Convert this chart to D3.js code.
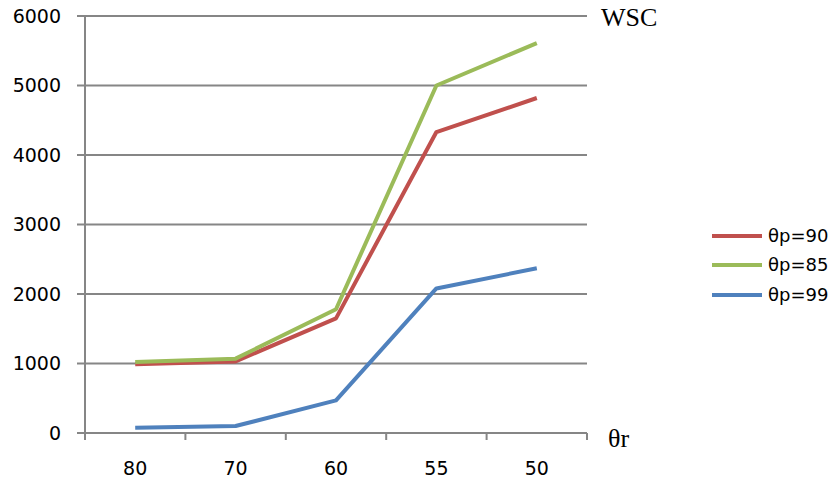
<!DOCTYPE html>
<html><head><meta charset="utf-8">
<script src="https://cdn.jsdelivr.net/npm/d3@7"></script>
<style>body{margin:0;background:#fff}svg{display:block}</style>
</head><body>
<script>
const categories = ["80","70","60","55","50"];
const seriesNames = ["θp=90","θp=85","θp=99"];
const s90 = [990, 1030, 1650, 4330, 4820];
const s85 = [1020, 1070, 1780, 5000, 5610];
const s99 = [75, 100, 470, 2080, 2370];
const yTicks = [0,1000,2000,3000,4000,5000,6000];
const colors = ["#C0504D","#9BBB59","#4F81BD"];
const series = [s90, s85, s99];

const W=831,H=484;
const svg=d3.select("body").append("svg").attr("width",W).attr("height",H);
const x=d3.scaleBand().domain(categories).range([85,587]);
const y=d3.scaleLinear().domain([0,6000]).range([433,16]);

// gridlines
svg.append("g").selectAll("line").data(yTicks).join("line")
 .attr("x1",77).attr("x2",587).attr("y1",d=>y(d)).attr("y2",d=>y(d))
 .attr("stroke","#868686").attr("stroke-width",2);
// y axis line
svg.append("line").attr("x1",85).attr("x2",85).attr("y1",y(6000)).attr("y2",y(0)+7)
 .attr("stroke","#868686").attr("stroke-width",2);
// x ticks
const bounds=categories.map(c=>x(c)).concat([x.range()[1]]);
svg.append("g").selectAll("line").data(bounds).join("line")
 .attr("x1",d=>d).attr("x2",d=>d).attr("y1",y(0)).attr("y2",y(0)+7)
 .attr("stroke","#868686").attr("stroke-width",2);
// y labels
svg.append("g").selectAll("text").data(yTicks).join("text")
 .attr("x",61).attr("y",d=>y(d)).attr("dy","0.36em").attr("text-anchor","end")
 .attr("font-family","DejaVu Sans").attr("font-size",19).attr("fill","#000").text(d=>d);
// x labels
svg.append("g").selectAll("text").data(categories).join("text")
 .attr("x",d=>x(d)+x.bandwidth()/2).attr("y",475).attr("text-anchor","middle")
 .attr("font-family","DejaVu Sans").attr("font-size",19).attr("fill","#000").text(d=>d);
// lines
const line=d3.line().x((d,i)=>x(categories[i])+x.bandwidth()/2).y(d=>y(d));
series.forEach((s,k)=>{
 svg.append("path").datum(s).attr("d",line).attr("fill","none")
  .attr("stroke",colors[k]).attr("stroke-width",4).attr("stroke-linejoin","round");
});
// axis titles
svg.append("text").attr("x",601).attr("y",26).attr("font-family","Liberation Serif")
 .attr("font-size",26).text("WSC");
svg.append("text").attr("x",608).attr("y",447).attr("font-family","Liberation Serif")
 .attr("font-size",26).text("θr");
// legend
const ly=[236,265,295];
seriesNames.forEach((n,k)=>{
 svg.append("line").attr("x1",712).attr("x2",762).attr("y1",ly[k]).attr("y2",ly[k])
  .attr("stroke",colors[k]).attr("stroke-width",4);
 svg.append("text").attr("x",768).attr("y",ly[k]).attr("dy","0.36em")
  .attr("font-family","DejaVu Sans").attr("font-size",18).text(n);
});
</script>
</body></html>
